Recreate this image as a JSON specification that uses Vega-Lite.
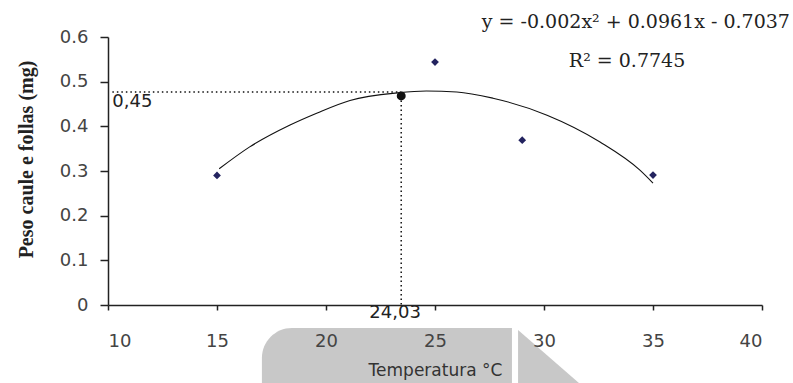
{
  "$schema": "https://vega.github.io/schema/vega-lite/v6.json",
  "width": 654,
  "height": 268,
  "autosize": {"type": "none"},
  "padding": {"left": 108, "top": 37, "right": 31, "bottom": 78},
  "background": "white",
  "config": {"view": {"stroke": null}},
  "datasets": {
    "obs": [
      {"temp": 15, "peso": 0.29},
      {"temp": 25, "peso": 0.544},
      {"temp": 29, "peso": 0.369},
      {"temp": 35, "peso": 0.291}
    ],
    "curve": [
      {"temp": 15.1, "peso": 0.305},
      {"temp": 16.5, "peso": 0.354},
      {"temp": 18.35, "peso": 0.403},
      {"temp": 19.6, "peso": 0.43},
      {"temp": 21.1, "peso": 0.458},
      {"temp": 23.3, "peso": 0.475},
      {"temp": 24.6, "peso": 0.479},
      {"temp": 26.0, "peso": 0.477},
      {"temp": 27.66, "peso": 0.463},
      {"temp": 30.14, "peso": 0.425},
      {"temp": 32.57, "peso": 0.365},
      {"temp": 34.4, "peso": 0.302},
      {"temp": 35.0, "peso": 0.273}
    ],
    "optimum": [{"temp": 23.45, "peso": 0.468, "hx": 10.2, "hy": 0.477}],
    "labels": [
      {"temp": 10.2, "peso": 0.477, "label": "0,45", "kind": "h"},
      {"temp": 23.17, "peso": 0, "label": "24,03", "kind": "v"}
    ],
    "equation": [
      {"temp": 41.28, "peso": 0.62, "label": "y = -0.002x² + 0.0961x - 0.7037", "kind": "eq"},
      {"temp": 33.81, "peso": 0.533, "label": "R² = 0.7745", "kind": "r2"}
    ],
    "wm": [{"x1": 17.06, "x2": 28.53, "y1": -0.0515, "y2": -0.2}],
    "wmtri": [
      {"x": 28.81, "ytop": -0.056, "ybot": -0.2},
      {"x": 32.2, "ytop": -0.2, "ybot": -0.2}
    ]
  },
  "layer": [
    {
      "data": {"name": "wm"},
      "mark": {"type": "rect", "color": "#c8c8c8", "cornerRadiusTopLeft": 30},
      "encoding": {
        "x": {"field": "x1", "type": "quantitative", "scale": {"domain": [10, 40], "nice": false, "zero": false}},
        "x2": {"field": "x2"},
        "y": {"field": "y1", "type": "quantitative", "scale": {"domain": [0, 0.6], "nice": false}},
        "y2": {"field": "y2"}
      }
    },
    {
      "data": {"name": "wmtri"},
      "mark": {"type": "area", "color": "#c8c8c8"},
      "encoding": {
        "x": {"field": "x", "type": "quantitative"},
        "y": {"field": "ytop", "type": "quantitative"},
        "y2": {"field": "ybot"}
      }
    },
    {
      "data": {"name": "curve"},
      "mark": {"type": "line", "color": "#111", "strokeWidth": 1.1, "interpolate": "monotone"},
      "encoding": {
        "x": {
          "field": "temp", "type": "quantitative",
          "scale": {"domain": [10, 40], "nice": false, "zero": false},
          "axis": {
            "values": [10, 15, 20, 25, 30, 35, 40],
            "grid": false, "zindex": 1,
            "domainColor": "#222", "domainWidth": 1.5,
            "tickColor": "#222", "tickSize": 5, "tickWidth": 1.5,
            "labelFont": "DejaVu Sans", "labelFontSize": 18, "labelColor": "#444",
            "labelPadding": 22,
            "title": "Temperatura °C",
            "titleFont": "DejaVu Sans", "titleFontSize": 17, "titleFontWeight": "normal",
            "titleColor": "#333", "titlePadding": 12
          }
        },
        "y": {
          "field": "peso", "type": "quantitative",
          "scale": {"domain": [0, 0.6], "nice": false},
          "axis": {
            "values": [0, 0.1, 0.2, 0.3, 0.4, 0.5, 0.6],
            "format": ".1~f",
            "grid": false, "zindex": 1,
            "domainColor": "#222", "domainWidth": 1.5,
            "tickColor": "#222", "tickSize": 8, "tickWidth": 1.5,
            "labelFont": "DejaVu Sans", "labelFontSize": 18, "labelColor": "#444",
            "labelPadding": 12,
            "title": "Peso caule e follas (mg)",
            "titleFont": "Liberation Serif", "titleFontSize": 20, "titleFontWeight": "bold",
            "titleColor": "#222", "titlePadding": 23, "titleY": 122
          }
        }
      }
    },
    {
      "data": {"name": "optimum"},
      "mark": {"type": "rule", "color": "#111", "strokeWidth": 1.5, "strokeDash": [1.5, 3]},
      "encoding": {
        "x": {"field": "hx", "type": "quantitative"},
        "x2": {"field": "temp"},
        "y": {"field": "hy", "type": "quantitative"}
      }
    },
    {
      "data": {"name": "optimum"},
      "mark": {"type": "rule", "color": "#111", "strokeWidth": 1.5, "strokeDash": [1.5, 3]},
      "encoding": {
        "x": {"field": "temp", "type": "quantitative"},
        "y": {"field": "peso", "type": "quantitative"},
        "y2": {"datum": 0}
      }
    },
    {
      "data": {"name": "optimum"},
      "mark": {"type": "point", "shape": "circle", "filled": true, "color": "#111", "size": 80, "opacity": 1},
      "encoding": {
        "x": {"field": "temp", "type": "quantitative"},
        "y": {"field": "peso", "type": "quantitative"}
      }
    },
    {
      "data": {"name": "obs"},
      "mark": {"type": "point", "shape": "diamond", "filled": true, "color": "#23235f", "size": 60, "opacity": 1},
      "encoding": {
        "x": {"field": "temp", "type": "quantitative"},
        "y": {"field": "peso", "type": "quantitative"}
      }
    },
    {
      "data": {"name": "labels"},
      "transform": [{"filter": "datum.kind == 'h'"}],
      "mark": {"type": "text", "font": "DejaVu Sans", "fontSize": 18, "color": "#222", "align": "left", "baseline": "top", "dy": 1},
      "encoding": {
        "x": {"field": "temp", "type": "quantitative"},
        "y": {"field": "peso", "type": "quantitative"},
        "text": {"field": "label"}
      }
    },
    {
      "data": {"name": "labels"},
      "transform": [{"filter": "datum.kind == 'v'"}],
      "mark": {"type": "text", "font": "DejaVu Sans", "fontSize": 18, "color": "#222", "align": "center", "baseline": "top", "dy": -1},
      "encoding": {
        "x": {"field": "temp", "type": "quantitative"},
        "y": {"field": "peso", "type": "quantitative"},
        "text": {"field": "label"}
      }
    },
    {
      "data": {"name": "equation"},
      "transform": [{"filter": "datum.kind == 'eq'"}],
      "mark": {"type": "text", "font": "DejaVu Serif", "fontSize": 19, "color": "#222", "baseline": "alphabetic", "align": "right"},
      "encoding": {
        "x": {"field": "temp", "type": "quantitative"},
        "y": {"field": "peso", "type": "quantitative"},
        "text": {"field": "label"}
      }
    },
    {
      "data": {"name": "equation"},
      "transform": [{"filter": "datum.kind == 'r2'"}],
      "mark": {"type": "text", "font": "DejaVu Serif", "fontSize": 19, "color": "#222", "baseline": "alphabetic", "align": "center"},
      "encoding": {
        "x": {"field": "temp", "type": "quantitative"},
        "y": {"field": "peso", "type": "quantitative"},
        "text": {"field": "label"}
      }
    }
  ]
}
